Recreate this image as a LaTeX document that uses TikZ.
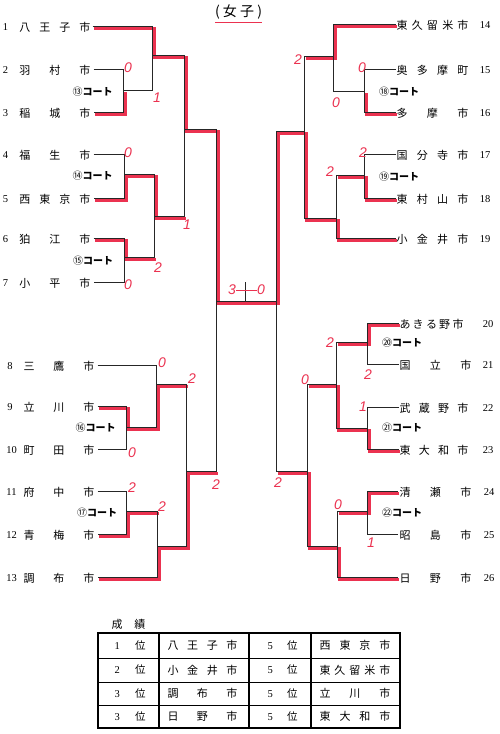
\documentclass[tikz,border=0pt]{standalone}
\usepackage{fontspec}
\setmainfont{Liberation Serif}
\newfontfamily\jp{Noto Sans CJK JP}
\newfontfamily\hand{Liberation Sans}
\definecolor{pen}{RGB}{235,50,80}
\newcommand\team[6]{%
  \node[nm] (n#1) at (#3,#5) {\makebox[#4pt]{#6}};
  \node[num] (k#1) at (#2,#5) {#1};}
\newcommand\bmatch[3]{\draw[bline] (#2) -| (#1) |- (#3);}
\newcommand\crt[1]{{\mdseries #1}コート}
\begin{document}
\begin{tikzpicture}[x=1pt,y=-1pt,
  bline/.style={draw=black!85,line width=1pt},
  rline/.style={draw=pen,line width=3pt,line join=miter,transform canvas={xshift=1.5pt,yshift=-1.5pt}},
  nm/.style={inner sep=0pt,font=\jp\fontsize{11}{11}\selectfont},
  num/.style={inner sep=0pt,font=\fontsize{10.5}{10.5}\selectfont},
  court/.style={inner sep=0pt,font=\jp\bfseries\fontsize{10}{10}\selectfont},
  score/.style={inner sep=0pt,text=pen,font=\hand\itshape\fontsize{14}{14}\selectfont},
  cell/.style={inner sep=0pt,font=\jp\fontsize{11}{11}\selectfont},
  cellnum/.style={inner sep=0pt,font=\fontsize{10.5}{10.5}\selectfont},
]
\useasboundingbox[fill=white] (0,0) rectangle (500,734);

% ---- title ----
\node[inner sep=0pt,font=\jp\fontsize{14}{14}\selectfont] (title) at (238.5,12) {\makebox[47pt]{(\hfill 女\hfill 子\hfill )}};
\coordinate (u1) at (215,22); \coordinate (u2) at (262,22);
\draw[pen,line width=1pt] (u1) -- (u2);

\begin{scope}[shift={(0.5,0.5)}]
% ---- team line ends (name side) ----
\coordinate (a1) at (92,26);  \coordinate (a2) at (93,69);  \coordinate (a3) at (93,112);
\coordinate (a4) at (93,154); \coordinate (a5) at (93,198); \coordinate (a6) at (93,238);
\coordinate (a7) at (93,282); \coordinate (a8) at (97,365); \coordinate (a9) at (97,406);
\coordinate (a10) at (97,449); \coordinate (a11) at (97,491); \coordinate (a12) at (97,534);
\coordinate (a13) at (97,577);
\coordinate (a14) at (395,24); \coordinate (a15) at (395,69); \coordinate (a16) at (395,112);
\coordinate (a17) at (395,154); \coordinate (a18) at (395,198); \coordinate (a19) at (395,238);
\coordinate (a20) at (398,323); \coordinate (a21) at (398,364); \coordinate (a22) at (398,407);
\coordinate (a23) at (398,449); \coordinate (a24) at (397,491); \coordinate (a25) at (397,534);
\coordinate (a26) at (397,577);

% ---- junctions ----
\coordinate (m13) at (123,90);  \coordinate (m1) at (152,55);
\coordinate (m14) at (124,174); \coordinate (m15) at (124,257);
\coordinate (m1415) at (154,216); \coordinate (sL1) at (184,129);
\coordinate (m16) at (126,427); \coordinate (m816) at (156,384);
\coordinate (m17) at (126,511); \coordinate (m1713) at (157,546);
\coordinate (sL2) at (186,471); \coordinate (fL) at (216,301);
\coordinate (m18) at (364,91);  \coordinate (m1418) at (333,56);
\coordinate (m19) at (364,175); \coordinate (m19b) at (336,218);
\coordinate (sR1) at (304,131);
\coordinate (m20) at (367,342); \coordinate (m21) at (367,428);
\coordinate (m2021) at (336,384);
\coordinate (m22) at (367,511); \coordinate (m2226) at (337,546);
\coordinate (sR2) at (307,471); \coordinate (fR) at (276,301);
\coordinate (c1) at (245,301); \coordinate (c2) at (245,281);

% ---- red winner paths ----
\draw[rline] (a1) -| (m1) -| (sL1) -| (fL) -- (fR) |- (sR1) |- (m19b) |- (a19);
\draw[rline] (a3) -| (m13);
\draw[rline] (a5) -| (m14) -| (m1415) -- (m1415 -| sL1);
\draw[rline] (a6) -| (m15) -- (m15 -| m1415);
\draw[rline] (a9) -| (m16) -| (m816) -- (m816 -| sL2);
\draw[rline] (a12) -| (m17) -- (m17 -| m1713);
\draw[rline] (a13) -| (m1713) -| (sL2) -- (sL2 -| fL);
\draw[rline] (a14) -| (m1418) -- (m1418 -| sR1);
\draw[rline] (a16) -| (m18);
\draw[rline] (a18) -| (m19) -- (m19 -| m19b);
\draw[rline] (a20) -| (m20) -- (m20 -| m2021);
\draw[rline] (a23) -| (m21) -| (m2021) -- (m2021 -| sR2);
\draw[rline] (a24) -| (m22) -- (m22 -| m2226);
\draw[rline] (a26) -| (m2226) -| (sR2) -- (sR2 -| fR);

% ---- black bracket ----
\bmatch{m13}{a2}{a3}
\bmatch{m1}{a1}{m13}
\bmatch{m14}{a4}{a5}
\bmatch{m15}{a6}{a7}
\bmatch{m1415}{m14}{m15}
\bmatch{sL1}{m1}{m1415}
\bmatch{m16}{a9}{a10}
\bmatch{m816}{a8}{m16}
\bmatch{m17}{a11}{a12}
\bmatch{m1713}{m17}{a13}
\bmatch{sL2}{m816}{m1713}
\bmatch{fL}{sL1}{sL2}
\bmatch{m18}{a15}{a16}
\bmatch{m1418}{a14}{m18}
\bmatch{m19}{a17}{a18}
\bmatch{m19b}{m19}{a19}
\bmatch{sR1}{m1418}{m19b}
\bmatch{m20}{a20}{a21}
\bmatch{m21}{a22}{a23}
\bmatch{m2021}{m20}{m21}
\bmatch{m22}{a24}{a25}
\bmatch{m2226}{m22}{a26}
\bmatch{sR2}{m2021}{m2226}
\bmatch{fR}{sR1}{sR2}
\draw[bline] (fL) -- (fR);
\draw[bline] (c1) -- (c2);
\end{scope}

% ---- team names ----
\team{1}{5.5}{55}{71}{27}{八\hfill 王\hfill 子\hfill 市}
\team{2}{5.5}{55}{71}{70}{羽\hfill 村\hfill 市}
\team{3}{5.5}{55}{71}{113}{稲\hfill 城\hfill 市}
\team{4}{5.5}{55}{71}{155}{福\hfill 生\hfill 市}
\team{5}{5.5}{55}{71}{199}{西\hfill 東\hfill 京\hfill 市}
\team{6}{5.5}{55}{71}{239}{狛\hfill 江\hfill 市}
\team{7}{5.5}{55}{71}{283}{小\hfill 平\hfill 市}
\team{8}{10}{59}{71}{366}{三\hfill 鷹\hfill 市}
\team{9}{10}{59}{71}{407}{立\hfill 川\hfill 市}
\team{10}{11.5}{59}{71}{450}{町\hfill 田\hfill 市}
\team{11}{11.5}{59}{71}{492}{府\hfill 中\hfill 市}
\team{12}{11.5}{59}{71}{535}{青\hfill 梅\hfill 市}
\team{13}{11.5}{59}{71}{578}{調\hfill 布\hfill 市}
\team{14}{485}{432.5}{72}{25}{東\hfill 久\hfill 留\hfill 米\hfill 市}
\team{15}{485}{432.5}{72}{70}{奥\hfill 多\hfill 摩\hfill 町}
\team{16}{485}{432.5}{72}{113}{多\hfill 摩\hfill 市}
\team{17}{485}{432.5}{72}{155}{国\hfill 分\hfill 寺\hfill 市}
\team{18}{485}{432.5}{72}{199}{東\hfill 村\hfill 山\hfill 市}
\team{19}{485}{432.5}{72}{239}{小\hfill 金\hfill 井\hfill 市}
\team{20}{488}{431.5}{64}{324}{あ\hfill き\hfill る\hfill 野\hfill 市}
\team{21}{488}{435.5}{72}{365}{国\hfill 立\hfill 市}
\team{22}{488}{434}{69}{408}{武\hfill 蔵\hfill 野\hfill 市}
\team{23}{488}{434}{69}{450}{東\hfill 大\hfill 和\hfill 市}
\team{24}{489}{435.5}{72}{492}{清\hfill 瀬\hfill 市}
\team{25}{489}{435.5}{72}{535}{昭\hfill 島\hfill 市}
\team{26}{489}{435.5}{72}{578}{日\hfill 野\hfill 市}

% ---- courts ----
\node[court] (ct13) at (92.5,92) {\crt{⑬}};
\node[court] (ct14) at (92.5,176) {\crt{⑭}};
\node[court] (ct15) at (93,261) {\crt{⑮}};
\node[court] (ct16) at (95.5,428) {\crt{⑯}};
\node[court] (ct17) at (97,513) {\crt{⑰}};
\node[court] (ct18) at (399,92) {\crt{⑱}};
\node[court] (ct19) at (399,177) {\crt{⑲}};
\node[court] (ct20) at (402,343) {\crt{⑳}};
\node[court] (ct21) at (402,428) {\crt{㉑}};
\node[court] (ct22) at (402,513) {\crt{㉒}};

% ---- scores ----
\node[score] (s1) at (128,68) {0};
\node[score] (s2) at (157,98) {1};
\node[score] (s3) at (128,153) {0};
\node[score] (s4) at (187,225) {1};
\node[score] (s5) at (158,268) {2};
\node[score] (s6) at (128,285) {0};
\node[score] (s7) at (162,363) {0};
\node[score] (s8) at (192,379) {2};
\node[score] (s9) at (132,453) {0};
\node[score] (s10) at (132,488) {2};
\node[score] (s11) at (162,507) {2};
\node[score] (s12) at (216,485) {2};
\node[score] (s13) at (298,60) {2};
\node[score] (s14) at (362,68) {0};
\node[score] (s15) at (336,103) {0};
\node[score] (s16) at (363,153) {2};
\node[score] (s17) at (330,172) {2};
\node[score] (s18) at (330,343) {2};
\node[score] (s19) at (368,375) {2};
\node[score] (s20) at (305,380) {0};
\node[score] (s21) at (363,407) {1};
\node[score] (s22) at (278,483) {2};
\node[score] (s23) at (338,505) {0};
\node[score] (s24) at (371,543) {1};
\node[score] (f3) at (232,290) {3};
\node[score] (f0) at (261,290) {0};
\draw[pen,line width=1pt] (f3.east) -- (f0.west);

% ---- results table ----
\node[cell] (res) at (128.5,624) {\makebox[34pt]{成\hfill 績}};
\coordinate (tl) at (98,633); \coordinate (br) at (400,728);
\coordinate (r1) at (98,658); \coordinate (r2) at (98,682); \coordinate (r3) at (98,705);
\coordinate (q1) at (159,633); \coordinate (q2) at (249,633); \coordinate (q3) at (311,633);
\foreach \r in {r1,r2,r3} \draw[line width=0.8pt] (\r) -- (\r -| br);
\foreach \q in {q1,q2,q3} \draw[line width=1.1pt] (\q) -- (\q |- br);
\draw[line width=1.5pt] (tl) rectangle (br);
\foreach \y/\p/\na/\nb [count=\i] in {645.5/1/{八\hfill 王\hfill 子\hfill 市}/{西\hfill 東\hfill 京\hfill 市},
  670/2/{小\hfill 金\hfill 井\hfill 市}/{東\hfill 久\hfill 留\hfill 米\hfill 市},
  693.5/3/{調\hfill 布\hfill 市}/{立\hfill 川\hfill 市},
  716.5/3/{日\hfill 野\hfill 市}/{東\hfill 大\hfill 和\hfill 市}}{
  \node[cellnum] (p\i) at (130,\y) {\makebox[31pt]{\p\hfill{\jp 位}}};
  \node[cell] (na\i) at (202.5,\y) {\makebox[70pt]{\na}};
  \node[cellnum] (pp\i) at (282.5,\y) {\makebox[30pt]{5\hfill{\jp 位}}};
  \node[cell] (nb\i) at (355,\y) {\makebox[71pt]{\nb}};
}
\end{tikzpicture}
\end{document}
